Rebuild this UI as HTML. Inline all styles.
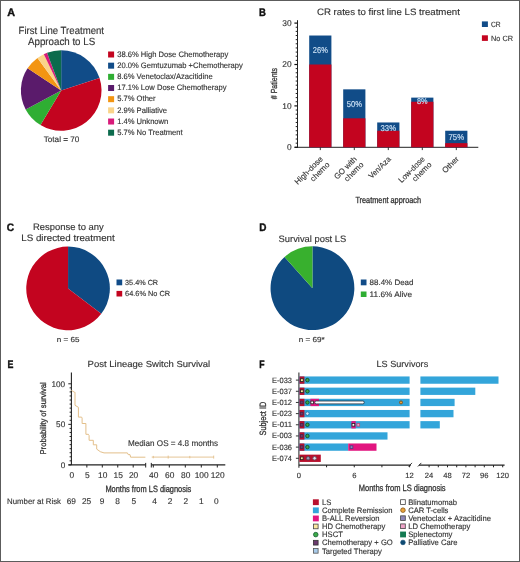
<!DOCTYPE html>
<html><head><meta charset="utf-8"><style>
html,body{margin:0;padding:0;background:#fff;}
body{width:520px;height:562px;overflow:hidden;}
svg{display:block;font-family:"Liberation Sans", sans-serif;will-change:transform;text-rendering:geometricPrecision;}
text{stroke-width:0.14px;}
text.cd{stroke-width:0.3px;}
</style></head><body>
<svg width="520" height="562" viewBox="0 0 520 562">
<rect x="0" y="0" width="520" height="562" fill="#fff"/>
<text x="7.2" y="16.0" font-size="10.9" text-anchor="start" fill="#111" stroke="#111" style="stroke-width:0.4px" font-weight="bold" textLength="7.8" lengthAdjust="spacingAndGlyphs">A</text>
<text x="61.3" y="34.2" font-size="10.4" text-anchor="middle" fill="#333" stroke="#333" font-weight="normal" textLength="85.4" lengthAdjust="spacingAndGlyphs">First Line Treatment</text>
<text x="61.6" y="45.2" font-size="10.4" text-anchor="middle" fill="#333" stroke="#333" font-weight="normal" textLength="67.1" lengthAdjust="spacingAndGlyphs">Approach to LS</text>
<path d="M61.20,90.50 L61.20,50.20 A40.3,40.3 0 0 1 99.53,78.05 Z" fill="#114C88"/>
<path d="M61.20,90.50 L99.53,78.05 A40.3,40.3 0 0 1 40.47,125.06 Z" fill="#C3041F"/>
<path d="M61.20,90.50 L40.47,125.06 A40.3,40.3 0 0 1 25.64,109.47 Z" fill="#2FAE33"/>
<path d="M61.20,90.50 L25.64,109.47 A40.3,40.3 0 0 1 27.59,68.27 Z" fill="#5A1B6B"/>
<path d="M61.20,90.50 L27.59,68.27 A40.3,40.3 0 0 1 37.51,57.90 Z" fill="#F39512"/>
<path d="M61.20,90.50 L37.51,57.90 A40.3,40.3 0 0 1 43.81,54.14 Z" fill="#FAD48A"/>
<path d="M61.20,90.50 L43.81,54.14 A40.3,40.3 0 0 1 47.07,52.76 Z" fill="#D81B7A"/>
<path d="M61.20,90.50 L47.07,52.76 A40.3,40.3 0 0 1 61.20,50.20 Z" fill="#0C6B4D"/>
<text x="61.55" y="142.1" font-size="8" text-anchor="middle" fill="#333" stroke="#333" font-weight="normal" textLength="35.7" lengthAdjust="spacingAndGlyphs">Total = 70</text>
<rect x="108.1" y="51.50" width="6" height="6" fill="#C3041F"/>
<text x="117.2" y="56.80" font-size="7.95" text-anchor="start" fill="#333" stroke="#333" font-weight="normal" textLength="111.11" lengthAdjust="spacingAndGlyphs">38.6% High Dose Chemotherapy</text>
<rect x="108.1" y="62.67" width="6" height="6" fill="#114C88"/>
<text x="117.2" y="67.97" font-size="7.95" text-anchor="start" fill="#333" stroke="#333" font-weight="normal" textLength="125.68" lengthAdjust="spacingAndGlyphs">20.0% Gemtuzumab +Chemotherapy</text>
<rect x="108.1" y="73.84" width="6" height="6" fill="#2FAE33"/>
<text x="117.2" y="79.14" font-size="7.95" text-anchor="start" fill="#333" stroke="#333" font-weight="normal" textLength="95.48" lengthAdjust="spacingAndGlyphs">8.6% Venetoclax/Azacitidine</text>
<rect x="108.1" y="85.01" width="6" height="6" fill="#5A1B6B"/>
<text x="117.2" y="90.31" font-size="7.95" text-anchor="start" fill="#333" stroke="#333" font-weight="normal" textLength="109.42" lengthAdjust="spacingAndGlyphs">17.1% Low Dose Chemotherapy</text>
<rect x="108.1" y="96.18" width="6" height="6" fill="#F39512"/>
<text x="117.2" y="101.48" font-size="7.95" text-anchor="start" fill="#333" stroke="#333" font-weight="normal" textLength="38.44" lengthAdjust="spacingAndGlyphs">5.7% Other</text>
<rect x="108.1" y="107.35" width="6" height="6" fill="#FAD48A"/>
<text x="117.2" y="112.65" font-size="7.95" text-anchor="start" fill="#333" stroke="#333" font-weight="normal" textLength="49.85" lengthAdjust="spacingAndGlyphs">2.9% Palliative</text>
<rect x="108.1" y="118.52" width="6" height="6" fill="#D81B7A"/>
<text x="117.2" y="123.82" font-size="7.95" text-anchor="start" fill="#333" stroke="#333" font-weight="normal" textLength="51.12" lengthAdjust="spacingAndGlyphs">1.4% Unknown</text>
<rect x="108.1" y="129.69" width="6" height="6" fill="#0C6B4D"/>
<text x="117.2" y="134.99" font-size="7.95" text-anchor="start" fill="#333" stroke="#333" font-weight="normal" textLength="65.48" lengthAdjust="spacingAndGlyphs">5.7% No Treatment</text>
<text x="258.9" y="16.0" font-size="10.9" text-anchor="start" fill="#111" stroke="#111" style="stroke-width:0.4px" font-weight="bold" textLength="6.9" lengthAdjust="spacingAndGlyphs">B</text>
<text x="316.9" y="14.9" font-size="9.3" text-anchor="start" fill="#333" stroke="#333" font-weight="normal" textLength="143" lengthAdjust="spacingAndGlyphs">CR rates to first line LS treatment</text>
<line x1="297.5" y1="20.2" x2="297.5" y2="147.8" stroke="#222" stroke-width="1"/>
<line x1="294.8" y1="147.3" x2="478.3" y2="147.3" stroke="#222" stroke-width="1"/>
<line x1="294.4" y1="147.30" x2="297.5" y2="147.30" stroke="#111" stroke-width="1.2"/>
<text x="291.6" y="150.20" font-size="8.4" text-anchor="end" fill="#333" stroke="#333" font-weight="normal">0</text>
<line x1="295.7" y1="143.16" x2="297.5" y2="143.16" stroke="#222" stroke-width="1"/>
<line x1="295.7" y1="139.02" x2="297.5" y2="139.02" stroke="#222" stroke-width="1"/>
<line x1="295.7" y1="134.88" x2="297.5" y2="134.88" stroke="#222" stroke-width="1"/>
<line x1="295.7" y1="130.74" x2="297.5" y2="130.74" stroke="#222" stroke-width="1"/>
<line x1="295.7" y1="126.60" x2="297.5" y2="126.60" stroke="#222" stroke-width="1"/>
<line x1="295.7" y1="122.46" x2="297.5" y2="122.46" stroke="#222" stroke-width="1"/>
<line x1="295.7" y1="118.32" x2="297.5" y2="118.32" stroke="#222" stroke-width="1"/>
<line x1="295.7" y1="114.18" x2="297.5" y2="114.18" stroke="#222" stroke-width="1"/>
<line x1="295.7" y1="110.04" x2="297.5" y2="110.04" stroke="#222" stroke-width="1"/>
<line x1="294.4" y1="105.90" x2="297.5" y2="105.90" stroke="#111" stroke-width="1.2"/>
<text x="291.6" y="108.80" font-size="8.4" text-anchor="end" fill="#333" stroke="#333" font-weight="normal">10</text>
<line x1="295.7" y1="101.76" x2="297.5" y2="101.76" stroke="#222" stroke-width="1"/>
<line x1="295.7" y1="97.62" x2="297.5" y2="97.62" stroke="#222" stroke-width="1"/>
<line x1="295.7" y1="93.48" x2="297.5" y2="93.48" stroke="#222" stroke-width="1"/>
<line x1="295.7" y1="89.34" x2="297.5" y2="89.34" stroke="#222" stroke-width="1"/>
<line x1="295.7" y1="85.20" x2="297.5" y2="85.20" stroke="#222" stroke-width="1"/>
<line x1="295.7" y1="81.06" x2="297.5" y2="81.06" stroke="#222" stroke-width="1"/>
<line x1="295.7" y1="76.92" x2="297.5" y2="76.92" stroke="#222" stroke-width="1"/>
<line x1="295.7" y1="72.78" x2="297.5" y2="72.78" stroke="#222" stroke-width="1"/>
<line x1="295.7" y1="68.64" x2="297.5" y2="68.64" stroke="#222" stroke-width="1"/>
<line x1="294.4" y1="64.50" x2="297.5" y2="64.50" stroke="#111" stroke-width="1.2"/>
<text x="291.6" y="67.40" font-size="8.4" text-anchor="end" fill="#333" stroke="#333" font-weight="normal">20</text>
<line x1="295.7" y1="60.36" x2="297.5" y2="60.36" stroke="#222" stroke-width="1"/>
<line x1="295.7" y1="56.22" x2="297.5" y2="56.22" stroke="#222" stroke-width="1"/>
<line x1="295.7" y1="52.08" x2="297.5" y2="52.08" stroke="#222" stroke-width="1"/>
<line x1="295.7" y1="47.94" x2="297.5" y2="47.94" stroke="#222" stroke-width="1"/>
<line x1="295.7" y1="43.80" x2="297.5" y2="43.80" stroke="#222" stroke-width="1"/>
<line x1="295.7" y1="39.66" x2="297.5" y2="39.66" stroke="#222" stroke-width="1"/>
<line x1="295.7" y1="35.52" x2="297.5" y2="35.52" stroke="#222" stroke-width="1"/>
<line x1="295.7" y1="31.38" x2="297.5" y2="31.38" stroke="#222" stroke-width="1"/>
<line x1="295.7" y1="27.24" x2="297.5" y2="27.24" stroke="#222" stroke-width="1"/>
<line x1="294.4" y1="23.10" x2="297.5" y2="23.10" stroke="#111" stroke-width="1.2"/>
<text x="291.6" y="26.00" font-size="8.4" text-anchor="end" fill="#333" stroke="#333" font-weight="normal">30</text>
<rect x="309.2" y="35.52" width="22.2" height="111.78" fill="#114C88"/>
<rect x="309.2" y="64.50" width="22.2" height="82.80" fill="#C3041F"/>
<line x1="320.3" y1="147.3" x2="320.3" y2="150.10000000000002" stroke="#222" stroke-width="0.9"/>
<text x="320.3" y="53.12" font-size="8.5" text-anchor="middle" fill="#CDE2F6" stroke="#CDE2F6" font-weight="normal" textLength="15" lengthAdjust="spacingAndGlyphs">26%</text>
<rect x="343.2" y="89.34" width="22.2" height="57.96" fill="#114C88"/>
<rect x="343.2" y="118.32" width="22.2" height="28.98" fill="#C3041F"/>
<line x1="354.3" y1="147.3" x2="354.3" y2="150.10000000000002" stroke="#222" stroke-width="0.9"/>
<text x="354.3" y="106.94" font-size="8.5" text-anchor="middle" fill="#CDE2F6" stroke="#CDE2F6" font-weight="normal" textLength="15.3" lengthAdjust="spacingAndGlyphs">50%</text>
<rect x="377.2" y="122.46" width="22.2" height="24.84" fill="#114C88"/>
<rect x="377.2" y="130.74" width="22.2" height="16.56" fill="#C3041F"/>
<line x1="388.3" y1="147.3" x2="388.3" y2="150.10000000000002" stroke="#222" stroke-width="0.9"/>
<text x="388.3" y="130.56" font-size="8.5" text-anchor="middle" fill="#CDE2F6" stroke="#CDE2F6" font-weight="normal" textLength="15.4" lengthAdjust="spacingAndGlyphs">33%</text>
<rect x="411.2" y="97.62" width="22.2" height="49.68" fill="#114C88"/>
<rect x="411.2" y="101.76" width="22.2" height="45.54" fill="#C3041F"/>
<line x1="422.3" y1="147.3" x2="422.3" y2="150.10000000000002" stroke="#222" stroke-width="0.9"/>
<text x="422.3" y="104.32" font-size="8.5" text-anchor="middle" fill="#CDE2F6" stroke="#CDE2F6" font-weight="normal" textLength="10.6" lengthAdjust="spacingAndGlyphs">8%</text>
<rect x="445.2" y="130.74" width="22.2" height="16.56" fill="#114C88"/>
<rect x="445.2" y="143.16" width="22.2" height="4.14" fill="#C3041F"/>
<line x1="456.3" y1="147.3" x2="456.3" y2="150.10000000000002" stroke="#222" stroke-width="0.9"/>
<text x="456.3" y="140.24" font-size="8.5" text-anchor="middle" fill="#CDE2F6" stroke="#CDE2F6" font-weight="normal" textLength="15.5" lengthAdjust="spacingAndGlyphs">75%</text>
<text transform="translate(323.30,159.60) rotate(-45)" font-size="7.9" fill="#333" stroke="#333" text-anchor="end">High-dose</text>
<text transform="translate(330.10,165.20) rotate(-45)" font-size="7.9" fill="#333" stroke="#333" text-anchor="end">chemo</text>
<text transform="translate(357.30,159.60) rotate(-45)" font-size="7.9" fill="#333" stroke="#333" text-anchor="end">GO with</text>
<text transform="translate(364.10,165.20) rotate(-45)" font-size="7.9" fill="#333" stroke="#333" text-anchor="end">chemo</text>
<text transform="translate(391.30,159.60) rotate(-45)" font-size="7.9" fill="#333" stroke="#333" text-anchor="end" textLength="27.6" lengthAdjust="spacingAndGlyphs">Ven/Aza</text>
<text transform="translate(425.30,159.60) rotate(-45)" font-size="7.9" fill="#333" stroke="#333" text-anchor="end" textLength="33.5" lengthAdjust="spacingAndGlyphs">Low-dose</text>
<text transform="translate(432.10,165.20) rotate(-45)" font-size="7.9" fill="#333" stroke="#333" text-anchor="end">chemo</text>
<text transform="translate(459.30,159.60) rotate(-45)" font-size="7.9" fill="#333" stroke="#333" text-anchor="end">Other</text>
<text x="388.25" y="203.4" font-size="8.9" text-anchor="middle" fill="#333" stroke="#333" font-weight="normal" textLength="65.7" lengthAdjust="spacingAndGlyphs" class="cd">Treatment approach</text>
<text transform="translate(277,83.6) rotate(-90)" class="cd" font-size="8.8" fill="#333" stroke="#333" text-anchor="middle" textLength="31.2" lengthAdjust="spacingAndGlyphs">#&#160;Patients</text>
<rect x="481.9" y="21.4" width="6" height="5.6" fill="#114C88"/>
<text x="491" y="26.5" font-size="7.6" text-anchor="start" fill="#333" stroke="#333" font-weight="normal" textLength="9.7" lengthAdjust="spacingAndGlyphs">CR</text>
<rect x="481.9" y="35.3" width="6" height="5.6" fill="#C3041F"/>
<text x="491" y="40.5" font-size="7.6" text-anchor="start" fill="#333" stroke="#333" font-weight="normal" textLength="22" lengthAdjust="spacingAndGlyphs">No CR</text>
<text x="6.8" y="231.0" font-size="10.9" text-anchor="start" fill="#111" stroke="#111" style="stroke-width:0.4px" font-weight="bold" textLength="7.4" lengthAdjust="spacingAndGlyphs">C</text>
<text x="68.4" y="230" font-size="9.4" text-anchor="middle" fill="#333" stroke="#333" font-weight="normal" textLength="70.8" lengthAdjust="spacingAndGlyphs">Response to any</text>
<text x="68" y="240.8" font-size="9.4" text-anchor="middle" fill="#333" stroke="#333" font-weight="normal" textLength="93.5" lengthAdjust="spacingAndGlyphs">LS directed treatment</text>
<path d="M68.05,288.40 L68.05,246.60 A41.8,41.8 0 0 1 101.24,313.81 Z" fill="#0F4A82"/>
<path d="M68.05,288.40 L101.24,313.81 A41.8,41.8 0 1 1 68.05,246.60 Z" fill="#C3041F"/>
<rect x="116.5" y="279.5" width="5.7" height="5.8" fill="#114C88"/>
<text x="125.1" y="285.1" font-size="7.4" text-anchor="start" fill="#333" stroke="#333" font-weight="normal" textLength="33" lengthAdjust="spacingAndGlyphs">35.4% CR</text>
<rect x="116.5" y="290.9" width="5.7" height="5.6" fill="#C3041F"/>
<text x="125.1" y="296.2" font-size="7.4" text-anchor="start" fill="#333" stroke="#333" font-weight="normal" textLength="45" lengthAdjust="spacingAndGlyphs">64.6% No CR</text>
<text x="68.05" y="342" font-size="7.3" text-anchor="middle" fill="#333" stroke="#333" font-weight="normal" textLength="22.7" lengthAdjust="spacingAndGlyphs">n = 65</text>
<text x="259.2" y="230.5" font-size="10.9" text-anchor="start" fill="#111" stroke="#111" style="stroke-width:0.4px" font-weight="bold" textLength="7.2" lengthAdjust="spacingAndGlyphs">D</text>
<text x="312.4" y="241.5" font-size="9.4" text-anchor="middle" fill="#333" stroke="#333" font-weight="normal" textLength="67.7" lengthAdjust="spacingAndGlyphs">Survival post LS</text>
<path d="M312.45,288.20 L312.45,246.30 A41.9,41.9 0 1 1 284.54,256.95 Z" fill="#0F4A80"/>
<path d="M312.45,288.20 L284.54,256.95 A41.9,41.9 0 0 1 312.45,246.30 Z" fill="#38B02E"/>
<rect x="360.8" y="279.5" width="5.7" height="5.8" fill="#114C88"/>
<text x="369.6" y="285.1" font-size="7.9" text-anchor="start" fill="#333" stroke="#333" font-weight="normal" textLength="43.9" lengthAdjust="spacingAndGlyphs">88.4% Dead</text>
<rect x="360.8" y="291.5" width="5.7" height="5.5" fill="#2FAE33"/>
<text x="369.6" y="296.9" font-size="7.9" text-anchor="start" fill="#333" stroke="#333" font-weight="normal" textLength="42.4" lengthAdjust="spacingAndGlyphs">11.6% Alive</text>
<text x="311.8" y="341.9" font-size="7.3" text-anchor="middle" fill="#333" stroke="#333" font-weight="normal" textLength="26" lengthAdjust="spacingAndGlyphs">n = 69*</text>
<text x="7.6" y="368.4" font-size="10.9" text-anchor="start" fill="#111" stroke="#111" style="stroke-width:0.4px" font-weight="bold" textLength="5.9" lengthAdjust="spacingAndGlyphs">E</text>
<text x="87.6" y="366.6" font-size="8.9" text-anchor="start" fill="#333" stroke="#333" font-weight="normal" textLength="122.6" lengthAdjust="spacingAndGlyphs">Post Lineage Switch Survival</text>
<line x1="71.4" y1="372.5" x2="71.4" y2="464.9" stroke="#222" stroke-width="1.1"/>
<line x1="68.3" y1="464.90" x2="71.4" y2="464.90" stroke="#222" stroke-width="1"/>
<text x="65.2" y="467.70" font-size="8.2" text-anchor="end" fill="#333" stroke="#333" font-weight="normal">0</text>
<line x1="69.6" y1="460.84" x2="71.4" y2="460.84" stroke="#222" stroke-width="1"/>
<line x1="69.6" y1="456.79" x2="71.4" y2="456.79" stroke="#222" stroke-width="1"/>
<line x1="69.6" y1="452.73" x2="71.4" y2="452.73" stroke="#222" stroke-width="1"/>
<line x1="69.6" y1="448.68" x2="71.4" y2="448.68" stroke="#222" stroke-width="1"/>
<line x1="69.6" y1="444.62" x2="71.4" y2="444.62" stroke="#222" stroke-width="1"/>
<line x1="69.6" y1="440.57" x2="71.4" y2="440.57" stroke="#222" stroke-width="1"/>
<line x1="69.6" y1="436.51" x2="71.4" y2="436.51" stroke="#222" stroke-width="1"/>
<line x1="69.6" y1="432.46" x2="71.4" y2="432.46" stroke="#222" stroke-width="1"/>
<line x1="69.6" y1="428.40" x2="71.4" y2="428.40" stroke="#222" stroke-width="1"/>
<line x1="68.3" y1="424.35" x2="71.4" y2="424.35" stroke="#222" stroke-width="1"/>
<text x="65.2" y="427.15" font-size="8.2" text-anchor="end" fill="#333" stroke="#333" font-weight="normal">50</text>
<line x1="69.6" y1="420.29" x2="71.4" y2="420.29" stroke="#222" stroke-width="1"/>
<line x1="69.6" y1="416.24" x2="71.4" y2="416.24" stroke="#222" stroke-width="1"/>
<line x1="69.6" y1="412.18" x2="71.4" y2="412.18" stroke="#222" stroke-width="1"/>
<line x1="69.6" y1="408.13" x2="71.4" y2="408.13" stroke="#222" stroke-width="1"/>
<line x1="69.6" y1="404.07" x2="71.4" y2="404.07" stroke="#222" stroke-width="1"/>
<line x1="69.6" y1="400.02" x2="71.4" y2="400.02" stroke="#222" stroke-width="1"/>
<line x1="69.6" y1="395.96" x2="71.4" y2="395.96" stroke="#222" stroke-width="1"/>
<line x1="69.6" y1="391.91" x2="71.4" y2="391.91" stroke="#222" stroke-width="1"/>
<line x1="69.6" y1="387.85" x2="71.4" y2="387.85" stroke="#222" stroke-width="1"/>
<line x1="68.3" y1="383.80" x2="71.4" y2="383.80" stroke="#222" stroke-width="1"/>
<text x="65.2" y="386.60" font-size="8.2" text-anchor="end" fill="#333" stroke="#333" font-weight="normal">100</text>
<line x1="68.5" y1="464.9" x2="145.7" y2="464.9" stroke="#222" stroke-width="1.1"/>
<line x1="145.7" y1="462.9" x2="145.7" y2="467.5" stroke="#222" stroke-width="1"/>
<line x1="151.3" y1="464.9" x2="225.3" y2="464.9" stroke="#222" stroke-width="1.1"/>
<line x1="151.3" y1="462.9" x2="151.3" y2="467.5" stroke="#222" stroke-width="1"/>
<text x="71.80" y="478.0" font-size="8.4" text-anchor="middle" fill="#333" stroke="#333" font-weight="normal">0</text>
<line x1="86.85" y1="464.9" x2="86.85" y2="467.5" stroke="#222" stroke-width="1"/>
<text x="87.25" y="478.0" font-size="8.4" text-anchor="middle" fill="#333" stroke="#333" font-weight="normal">5</text>
<line x1="102.30" y1="464.9" x2="102.30" y2="467.5" stroke="#222" stroke-width="1"/>
<text x="102.70" y="478.0" font-size="8.4" text-anchor="middle" fill="#333" stroke="#333" font-weight="normal">10</text>
<line x1="117.75" y1="464.9" x2="117.75" y2="467.5" stroke="#222" stroke-width="1"/>
<text x="118.15" y="478.0" font-size="8.4" text-anchor="middle" fill="#333" stroke="#333" font-weight="normal">15</text>
<line x1="133.20" y1="464.9" x2="133.20" y2="467.5" stroke="#222" stroke-width="1"/>
<text x="133.60" y="478.0" font-size="8.4" text-anchor="middle" fill="#333" stroke="#333" font-weight="normal">20</text>
<line x1="153.30" y1="464.9" x2="153.30" y2="467.5" stroke="#222" stroke-width="1"/>
<text x="153.70" y="478.0" font-size="8.4" text-anchor="middle" fill="#333" stroke="#333" font-weight="normal">40</text>
<line x1="169.30" y1="464.9" x2="169.30" y2="467.5" stroke="#222" stroke-width="1"/>
<text x="169.70" y="478.0" font-size="8.4" text-anchor="middle" fill="#333" stroke="#333" font-weight="normal">60</text>
<line x1="185.30" y1="464.9" x2="185.30" y2="467.5" stroke="#222" stroke-width="1"/>
<text x="185.70" y="478.0" font-size="8.4" text-anchor="middle" fill="#333" stroke="#333" font-weight="normal">80</text>
<line x1="201.30" y1="464.9" x2="201.30" y2="467.5" stroke="#222" stroke-width="1"/>
<text x="201.70" y="478.0" font-size="8.4" text-anchor="middle" fill="#333" stroke="#333" font-weight="normal">100</text>
<line x1="217.30" y1="464.9" x2="217.30" y2="467.5" stroke="#222" stroke-width="1"/>
<text x="217.70" y="478.0" font-size="8.4" text-anchor="middle" fill="#333" stroke="#333" font-weight="normal">120</text>
<path d="M71.4,390.4 L74.4,392.2 L75,392.2 V405.3 L78.4,407.3 V417.1 H81.6 L82.1,418.1 V423.5 H85.9 V434.3 H88.4 L89.1,435.6 V440.3 H93.3 V444.8 H96.7 V449.1 L100.3,451.7 L104,452.9 H127.4 L128.2,454.6 H130 L130.6,457.2 H145.4" fill="none" stroke="#E3BF8A" stroke-width="1"/>
<path d="M151.7,457.1 H213.7 M168.2,455.6 V458.6 M189.8,455.9 V458.3 M213.7,455.6 V458.6 M153.3,455.9 V458.3" fill="none" stroke="#E3BF8A" stroke-width="0.9"/>
<text x="128" y="445.8" font-size="8.3" text-anchor="start" fill="#333" stroke="#333" font-weight="normal" textLength="90" lengthAdjust="spacingAndGlyphs">Median OS = 4.8 months</text>
<text transform="translate(46.1,418.35) rotate(-90)" class="cd" font-size="8.4" fill="#333" stroke="#333" text-anchor="middle" textLength="72.3" lengthAdjust="spacingAndGlyphs">Probability of survival</text>
<text x="148.35" y="491.5" font-size="9.2" text-anchor="middle" fill="#333" stroke="#333" font-weight="normal" textLength="85.9" lengthAdjust="spacingAndGlyphs" class="cd">Months from LS diagnosis</text>
<text x="7" y="503.6" font-size="8" text-anchor="start" fill="#333" stroke="#333" font-weight="normal" textLength="54" lengthAdjust="spacingAndGlyphs">Number at Risk</text>
<text x="71.25" y="503.7" font-size="8.3" text-anchor="middle" fill="#333" stroke="#333" font-weight="normal">69</text>
<text x="86.5" y="503.7" font-size="8.3" text-anchor="middle" fill="#333" stroke="#333" font-weight="normal">25</text>
<text x="102" y="503.7" font-size="8.3" text-anchor="middle" fill="#333" stroke="#333" font-weight="normal">9</text>
<text x="117.5" y="503.7" font-size="8.3" text-anchor="middle" fill="#333" stroke="#333" font-weight="normal">8</text>
<text x="133.75" y="503.7" font-size="8.3" text-anchor="middle" fill="#333" stroke="#333" font-weight="normal">5</text>
<text x="154.5" y="503.7" font-size="8.3" text-anchor="middle" fill="#333" stroke="#333" font-weight="normal">4</text>
<text x="170" y="503.7" font-size="8.3" text-anchor="middle" fill="#333" stroke="#333" font-weight="normal">2</text>
<text x="185.75" y="503.7" font-size="8.3" text-anchor="middle" fill="#333" stroke="#333" font-weight="normal">2</text>
<text x="201.25" y="503.7" font-size="8.3" text-anchor="middle" fill="#333" stroke="#333" font-weight="normal">1</text>
<text x="216.25" y="503.7" font-size="8.3" text-anchor="middle" fill="#333" stroke="#333" font-weight="normal">0</text>
<text x="259.2" y="368.3" font-size="10.9" text-anchor="start" fill="#111" stroke="#111" style="stroke-width:0.4px" font-weight="bold" textLength="5.3" lengthAdjust="spacingAndGlyphs">F</text>
<text x="376.5" y="367.1" font-size="9" text-anchor="start" fill="#333" stroke="#333" font-weight="normal" textLength="51.7" lengthAdjust="spacingAndGlyphs">LS Survivors</text>
<line x1="298.9" y1="372.4" x2="298.9" y2="467.8" stroke="#333" stroke-width="1.1"/>
<line x1="298.9" y1="465.1" x2="410.9" y2="465.1" stroke="#222" stroke-width="1.1"/>
<line x1="419" y1="465.1" x2="504.6" y2="465.1" stroke="#222" stroke-width="1.1"/>
<line x1="408.6" y1="466.5" x2="412" y2="462.90000000000003" stroke="#222" stroke-width="0.9"/>
<line x1="417.9" y1="466.5" x2="421.3" y2="462.90000000000003" stroke="#222" stroke-width="0.9"/>
<line x1="326.57" y1="465.1" x2="326.57" y2="467.3" stroke="#222" stroke-width="1"/>
<line x1="354.25" y1="465.1" x2="354.25" y2="467.3" stroke="#222" stroke-width="1"/>
<line x1="381.92" y1="465.1" x2="381.92" y2="467.3" stroke="#222" stroke-width="1"/>
<line x1="409.60" y1="465.1" x2="409.60" y2="467.3" stroke="#222" stroke-width="1"/>
<line x1="429.10" y1="465.1" x2="429.10" y2="467.3" stroke="#222" stroke-width="1"/>
<line x1="438.30" y1="465.1" x2="438.30" y2="467.3" stroke="#222" stroke-width="1"/>
<line x1="447.50" y1="465.1" x2="447.50" y2="467.3" stroke="#222" stroke-width="1"/>
<line x1="456.70" y1="465.1" x2="456.70" y2="467.3" stroke="#222" stroke-width="1"/>
<line x1="465.90" y1="465.1" x2="465.90" y2="467.3" stroke="#222" stroke-width="1"/>
<line x1="475.10" y1="465.1" x2="475.10" y2="467.3" stroke="#222" stroke-width="1"/>
<line x1="484.30" y1="465.1" x2="484.30" y2="467.3" stroke="#222" stroke-width="1"/>
<line x1="493.50" y1="465.1" x2="493.50" y2="467.3" stroke="#222" stroke-width="1"/>
<line x1="502.70" y1="465.1" x2="502.70" y2="467.3" stroke="#222" stroke-width="1"/>
<text x="298.90" y="477.7" font-size="7.6" text-anchor="middle" fill="#333" stroke="#333" font-weight="normal">0</text>
<text x="354.25" y="477.7" font-size="7.6" text-anchor="middle" fill="#333" stroke="#333" font-weight="normal">6</text>
<text x="409.60" y="477.7" font-size="7.6" text-anchor="middle" fill="#333" stroke="#333" font-weight="normal">12</text>
<text x="429.10" y="477.7" font-size="7.6" text-anchor="middle" fill="#333" stroke="#333" font-weight="normal">24</text>
<text x="447.50" y="477.7" font-size="7.6" text-anchor="middle" fill="#333" stroke="#333" font-weight="normal">48</text>
<text x="465.90" y="477.7" font-size="7.6" text-anchor="middle" fill="#333" stroke="#333" font-weight="normal">72</text>
<text x="484.30" y="477.7" font-size="7.6" text-anchor="middle" fill="#333" stroke="#333" font-weight="normal">96</text>
<text x="502.70" y="477.7" font-size="7.6" text-anchor="middle" fill="#333" stroke="#333" font-weight="normal">120</text>
<text x="402.15" y="491.4" font-size="9.2" text-anchor="middle" fill="#333" stroke="#333" font-weight="normal" textLength="86.9" lengthAdjust="spacingAndGlyphs" class="cd">Months from LS diagnosis</text>
<text transform="translate(266.2,418.6) rotate(-90)" class="cd" font-size="9.2" fill="#333" stroke="#333" text-anchor="middle" textLength="33.6" lengthAdjust="spacingAndGlyphs">Subject ID</text>
<line x1="295.9" y1="380.10" x2="298.9" y2="380.10" stroke="#333" stroke-width="1"/>
<text x="292" y="382.60" font-size="7.7" text-anchor="end" fill="#333" stroke="#333" font-weight="normal" textLength="19.9" lengthAdjust="spacingAndGlyphs">E-033</text>
<rect x="298.9" y="376.45" width="110.70" height="7.3" fill="#33A5DA"/>
<rect x="420.4" y="376.45" width="78.10" height="7.3" fill="#33A5DA"/>
<rect x="299.4" y="376.45" width="5.00" height="7.3" fill="#B8102D"/>
<line x1="295.9" y1="391.27" x2="298.9" y2="391.27" stroke="#333" stroke-width="1"/>
<text x="292" y="393.77" font-size="7.7" text-anchor="end" fill="#333" stroke="#333" font-weight="normal" textLength="19.9" lengthAdjust="spacingAndGlyphs">E-037</text>
<rect x="298.9" y="387.62" width="110.70" height="7.3" fill="#33A5DA"/>
<rect x="420.4" y="387.62" width="54.90" height="7.3" fill="#33A5DA"/>
<rect x="299.4" y="387.62" width="5.00" height="7.3" fill="#B8102D"/>
<line x1="295.9" y1="402.44" x2="298.9" y2="402.44" stroke="#333" stroke-width="1"/>
<text x="292" y="404.94" font-size="7.7" text-anchor="end" fill="#333" stroke="#333" font-weight="normal" textLength="19.9" lengthAdjust="spacingAndGlyphs">E-012</text>
<rect x="298.9" y="398.79" width="110.70" height="7.3" fill="#33A5DA"/>
<rect x="420.4" y="398.79" width="34.20" height="7.3" fill="#33A5DA"/>
<rect x="299.4" y="398.79" width="5.00" height="7.3" fill="#B8102D"/>
<line x1="295.9" y1="413.61" x2="298.9" y2="413.61" stroke="#333" stroke-width="1"/>
<text x="292" y="416.11" font-size="7.7" text-anchor="end" fill="#333" stroke="#333" font-weight="normal" textLength="19.9" lengthAdjust="spacingAndGlyphs">E-023</text>
<rect x="298.9" y="409.96" width="110.70" height="7.3" fill="#33A5DA"/>
<rect x="420.4" y="409.96" width="33.10" height="7.3" fill="#33A5DA"/>
<rect x="299.4" y="409.96" width="5.00" height="7.3" fill="#B8102D"/>
<line x1="295.9" y1="424.78" x2="298.9" y2="424.78" stroke="#333" stroke-width="1"/>
<text x="292" y="427.28" font-size="7.7" text-anchor="end" fill="#333" stroke="#333" font-weight="normal" textLength="19.9" lengthAdjust="spacingAndGlyphs">E-011</text>
<rect x="298.9" y="421.13" width="110.70" height="7.3" fill="#33A5DA"/>
<rect x="420.4" y="421.13" width="19.40" height="7.3" fill="#33A5DA"/>
<rect x="299.4" y="421.13" width="5.00" height="7.3" fill="#B8102D"/>
<line x1="295.9" y1="435.95" x2="298.9" y2="435.95" stroke="#333" stroke-width="1"/>
<text x="292" y="438.45" font-size="7.7" text-anchor="end" fill="#333" stroke="#333" font-weight="normal" textLength="19.9" lengthAdjust="spacingAndGlyphs">E-003</text>
<rect x="298.9" y="432.30" width="88.60" height="7.3" fill="#33A5DA"/>
<rect x="299.4" y="432.30" width="5.00" height="7.3" fill="#B8102D"/>
<line x1="295.9" y1="447.12" x2="298.9" y2="447.12" stroke="#333" stroke-width="1"/>
<text x="292" y="449.62" font-size="7.7" text-anchor="end" fill="#333" stroke="#333" font-weight="normal" textLength="19.9" lengthAdjust="spacingAndGlyphs">E-036</text>
<rect x="298.9" y="443.47" width="49.30" height="7.3" fill="#33A5DA"/>
<rect x="348.2" y="443.47" width="28.30" height="7.3" fill="#E2157F"/>
<rect x="299.4" y="443.47" width="5.00" height="7.3" fill="#B8102D"/>
<line x1="295.9" y1="458.29" x2="298.9" y2="458.29" stroke="#333" stroke-width="1"/>
<text x="292" y="460.79" font-size="7.7" text-anchor="end" fill="#333" stroke="#333" font-weight="normal" textLength="19.9" lengthAdjust="spacingAndGlyphs">E-074</text>
<rect x="299.4" y="454.64" width="21.40" height="7.3" fill="#B8102D"/>
<rect x="300.55" y="378.75" width="2.7" height="2.7" fill="#FBE6A0" stroke="#222" stroke-width="0.8"/>
<circle cx="307.40" cy="380.10" r="1.75" fill="#3CAA48" stroke="#0a4a2a" stroke-width="0.85"/>
<rect x="300.55" y="389.92" width="2.7" height="2.7" fill="#FBE6A0" stroke="#222" stroke-width="0.8"/>
<circle cx="307.40" cy="391.27" r="1.75" fill="#3CAA48" stroke="#0a4a2a" stroke-width="0.85"/>
<rect x="300.35" y="401.09" width="2.7" height="2.7" fill="#6B3A6E" stroke="#4a2548" stroke-width="0.8"/>
<circle cx="307.40" cy="402.44" r="1.75" fill="#3CAA48" stroke="#0a4a2a" stroke-width="0.85"/>
<rect x="300.35" y="412.26" width="2.7" height="2.7" fill="#6B3A6E" stroke="#4a2548" stroke-width="0.8"/>
<circle cx="307.40" cy="413.61" r="1.75" fill="#D9ECF8" stroke="#1e6aa8" stroke-width="0.85"/>
<rect x="300.35" y="423.43" width="2.7" height="2.7" fill="#6B3A6E" stroke="#4a2548" stroke-width="0.8"/>
<circle cx="307.40" cy="424.78" r="1.75" fill="#3CAA48" stroke="#0a4a2a" stroke-width="0.85"/>
<rect x="300.35" y="434.60" width="2.7" height="2.7" fill="#6B3A6E" stroke="#4a2548" stroke-width="0.8"/>
<circle cx="307.40" cy="435.95" r="1.75" fill="#3CAA48" stroke="#0a4a2a" stroke-width="0.85"/>
<rect x="300.35" y="445.77" width="2.7" height="2.7" fill="#6B3A6E" stroke="#4a2548" stroke-width="0.8"/>
<circle cx="307.40" cy="447.12" r="1.75" fill="#3CAA48" stroke="#0a4a2a" stroke-width="0.85"/>
<rect x="300.45" y="456.94" width="2.7" height="2.7" fill="#FBE6A0" stroke="#222" stroke-width="0.8"/>
<rect x="310.4" y="398.79" width="8.6" height="7.3" fill="#E2157F"/>
<rect x="314.8" y="400.99" width="49.4" height="2.9" rx="1.3" fill="#fff" stroke="#1a2a3a" stroke-width="0.8"/>
<rect x="310.85" y="401.09" width="2.7" height="2.7" fill="#fff" stroke="#222" stroke-width="0.8"/>
<circle cx="401.00" cy="402.44" r="1.5" fill="#E8A33C" stroke="#7a4a10" stroke-width="0.85"/>
<rect x="351.4" y="421.13" width="4.3" height="7.3" fill="#E2157F"/>
<rect x="352.05" y="423.43" width="2.7" height="2.7" fill="#fff" stroke="#222" stroke-width="0.8"/>
<rect x="356.95" y="423.43" width="2.7" height="2.7" fill="#EFA3C8" stroke="#b0507f" stroke-width="0.8"/>
<rect x="350.15" y="445.77" width="2.7" height="2.7" fill="#8D86B8" stroke="#4a3f80" stroke-width="0.8"/>
<circle cx="308.10" cy="458.29" r="1.75" fill="#9C98B8" stroke="#4a4a5a" stroke-width="0.85"/>
<circle cx="314.60" cy="458.29" r="1.75" fill="#E6DCEA" stroke="#5a5a66" stroke-width="0.85"/>
<rect x="312.90" y="499.30" width="5.9" height="5.8" fill="#B8102D"/>
<text x="322" y="504.75" font-size="7.9" text-anchor="start" fill="#333" stroke="#333" font-weight="normal" textLength="9.36" lengthAdjust="spacingAndGlyphs">LS</text>
<rect x="312.90" y="507.43" width="5.9" height="5.8" fill="#33A5DA"/>
<text x="322" y="512.88" font-size="7.9" text-anchor="start" fill="#333" stroke="#333" font-weight="normal" textLength="70.58" lengthAdjust="spacingAndGlyphs">Complete Remission</text>
<rect x="312.90" y="515.56" width="5.9" height="5.8" fill="#E2157F"/>
<text x="322" y="521.01" font-size="7.9" text-anchor="start" fill="#333" stroke="#333" font-weight="normal" textLength="57.55" lengthAdjust="spacingAndGlyphs">B-ALL Reversion</text>
<rect x="313.40" y="524.09" width="4.7" height="4.7" fill="#FBE6A0" stroke="#444" stroke-width="0.8"/>
<text x="322" y="529.14" font-size="7.9" text-anchor="start" fill="#333" stroke="#333" font-weight="normal" textLength="63.35" lengthAdjust="spacingAndGlyphs">HD Chemotherapy</text>
<circle cx="315.75" cy="534.62" r="2.3" fill="#3CAA48" stroke="#0b4d2c" stroke-width="0.7"/>
<text x="322" y="537.27" font-size="7.9" text-anchor="start" fill="#333" stroke="#333" font-weight="normal" textLength="20.83" lengthAdjust="spacingAndGlyphs">HSCT</text>
<rect x="313.40" y="540.35" width="4.7" height="4.7" fill="#6B3A6E" stroke="#333" stroke-width="0.8"/>
<text x="322" y="545.40" font-size="7.9" text-anchor="start" fill="#333" stroke="#333" font-weight="normal" textLength="70.8" lengthAdjust="spacingAndGlyphs">Chemotherapy + GO</text>
<rect x="313.40" y="548.48" width="4.7" height="4.7" fill="#A8CBEA" stroke="#555" stroke-width="0.8"/>
<text x="322" y="553.53" font-size="7.9" text-anchor="start" fill="#333" stroke="#333" font-weight="normal" textLength="59.82" lengthAdjust="spacingAndGlyphs">Targeted Therapy</text>
<rect x="400.60" y="499.70" width="4.7" height="4.7" fill="#fff" stroke="#444" stroke-width="0.8"/>
<text x="408.2" y="504.75" font-size="7.9" text-anchor="start" fill="#333" stroke="#333" font-weight="normal" textLength="48.9" lengthAdjust="spacingAndGlyphs">Blinatumomab</text>
<circle cx="402.95" cy="510.17" r="2.3" fill="#E8A33C" stroke="#7a4a10" stroke-width="0.7"/>
<text x="408.2" y="512.82" font-size="7.9" text-anchor="start" fill="#333" stroke="#333" font-weight="normal" textLength="40.24" lengthAdjust="spacingAndGlyphs">CAR T-cells</text>
<rect x="400.60" y="515.84" width="4.7" height="4.7" fill="#8D86B8" stroke="#444" stroke-width="0.8"/>
<text x="408.2" y="520.89" font-size="7.9" text-anchor="start" fill="#333" stroke="#333" font-weight="normal" textLength="82.72" lengthAdjust="spacingAndGlyphs">Venetoclax + Azacitidine</text>
<rect x="400.60" y="523.91" width="4.7" height="4.7" fill="#EFA3C8" stroke="#444" stroke-width="0.8"/>
<text x="408.2" y="528.96" font-size="7.9" text-anchor="start" fill="#333" stroke="#333" font-weight="normal" textLength="62.08" lengthAdjust="spacingAndGlyphs">LD Chemotherapy</text>
<rect x="400.10" y="531.58" width="5.9" height="5.8" fill="#137A52"/>
<text x="408.2" y="537.03" font-size="7.9" text-anchor="start" fill="#333" stroke="#333" font-weight="normal" textLength="44.22" lengthAdjust="spacingAndGlyphs">Splenectomy</text>
<circle cx="402.95" cy="542.45" r="2.3" fill="#0F4A73" stroke="#0F4A73" stroke-width="0.7"/>
<text x="408.2" y="545.10" font-size="7.9" text-anchor="start" fill="#333" stroke="#333" font-weight="normal" textLength="49.32" lengthAdjust="spacingAndGlyphs">Palliative Care</text>
<rect x="0.5" y="0.5" width="519" height="561" fill="none" stroke="#5c5c5c" stroke-width="1"/>
</svg>
</body></html>
